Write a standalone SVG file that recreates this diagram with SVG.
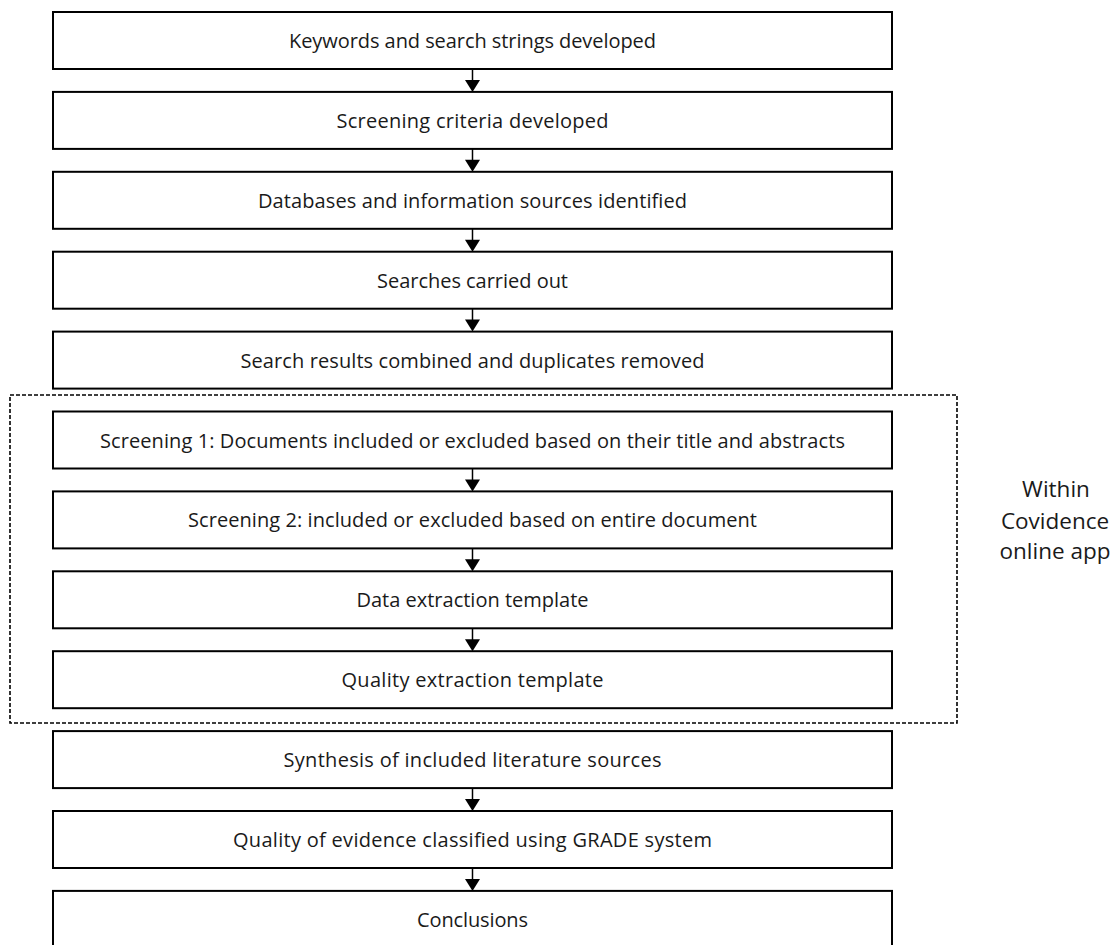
<svg xmlns="http://www.w3.org/2000/svg" width="1118" height="945" viewBox="0 0 1118 945">
<style>
.box{fill:#fff;stroke:#000;stroke-width:2}
.t{font-family:"Open Sans","Liberation Sans",sans-serif;font-size:20px;fill:#1a1a1a;text-anchor:middle}
.s{font-family:"Open Sans","Liberation Sans",sans-serif;font-size:22.5px;fill:#1a1a1a;text-anchor:middle}
.c line{stroke:#000;stroke-width:1.5}
.c polygon{fill:#000}
.grp{fill:none;stroke:#000;stroke-width:1.6;stroke-dasharray:4 2}
</style>
<rect width="1118" height="945" fill="#fff"/>
<rect class="grp" x="10" y="395" width="947" height="328"/>
<g id="n1"><rect class="box" x="53" y="12" width="839" height="57"/><text class="t" x="472.5" y="48" textLength="367">Keywords and search strings developed</text></g>
<g id="n2"><rect class="box" x="53" y="91.9" width="839" height="57"/><text class="t" x="472.5" y="127.9" textLength="272">Screening criteria developed</text></g>
<g id="n3"><rect class="box" x="53" y="171.8" width="839" height="57"/><text class="t" x="472.5" y="207.8" textLength="429">Databases and information sources identified</text></g>
<g id="n4"><rect class="box" x="53" y="251.7" width="839" height="57"/><text class="t" x="472.5" y="287.7" textLength="191">Searches carried out</text></g>
<g id="n5"><rect class="box" x="53" y="331.6" width="839" height="57"/><text class="t" x="472.5" y="367.6" textLength="464">Search results combined and duplicates removed</text></g>
<g id="n6"><rect class="box" x="53" y="411.5" width="839" height="57"/><text class="t" x="472.5" y="447.5" textLength="745">Screening 1: Documents included or excluded based on their title and abstracts</text></g>
<g id="n7"><rect class="box" x="53" y="491.4" width="839" height="57"/><text class="t" x="472.5" y="527.4" textLength="569">Screening 2: included or excluded based on entire document</text></g>
<g id="n8"><rect class="box" x="53" y="571.3" width="839" height="57"/><text class="t" x="472.5" y="607.3" textLength="232">Data extraction template</text></g>
<g id="n9"><rect class="box" x="53" y="651.2" width="839" height="57"/><text class="t" x="472.5" y="687.2" textLength="262">Quality extraction template</text></g>
<g id="n10"><rect class="box" x="53" y="731.1" width="839" height="57"/><text class="t" x="472.5" y="767.1" textLength="378">Synthesis of included literature sources</text></g>
<g id="n11"><rect class="box" x="53" y="811" width="839" height="57"/><text class="t" x="472.5" y="847" textLength="479">Quality of evidence classified using GRADE system</text></g>
<g id="n12"><rect class="box" x="53" y="890.9" width="839" height="60"/><text class="t" x="472.5" y="927" textLength="111">Conclusions</text></g>
<g id="label"><text class="s" x="1056" y="497">Within</text><text class="s" x="1055" y="529">Covidence</text><text class="s" x="1055" y="559">online app</text></g>
<g class="c" id="connectors">
<line x1="472.5" y1="69" x2="472.5" y2="81"/><polygon points="465,79.9 480,79.9 472.5,91.9"/>
<line x1="472.5" y1="148.9" x2="472.5" y2="160.9"/><polygon points="465,159.8 480,159.8 472.5,171.8"/>
<line x1="472.5" y1="228.8" x2="472.5" y2="240.8"/><polygon points="465,239.7 480,239.7 472.5,251.7"/>
<line x1="472.5" y1="308.7" x2="472.5" y2="320.7"/><polygon points="465,319.6 480,319.6 472.5,331.6"/>
<line x1="472.5" y1="468.5" x2="472.5" y2="480.5"/><polygon points="465,479.4 480,479.4 472.5,491.4"/>
<line x1="472.5" y1="548.4" x2="472.5" y2="560.4"/><polygon points="465,559.3 480,559.3 472.5,571.3"/>
<line x1="472.5" y1="628.3" x2="472.5" y2="640.3"/><polygon points="465,639.2 480,639.2 472.5,651.2"/>
<line x1="472.5" y1="788.1" x2="472.5" y2="800.1"/><polygon points="465,799 480,799 472.5,811"/>
<line x1="472.5" y1="868" x2="472.5" y2="880"/><polygon points="465,878.9 480,878.9 472.5,890.9"/>
</g>
</svg>
